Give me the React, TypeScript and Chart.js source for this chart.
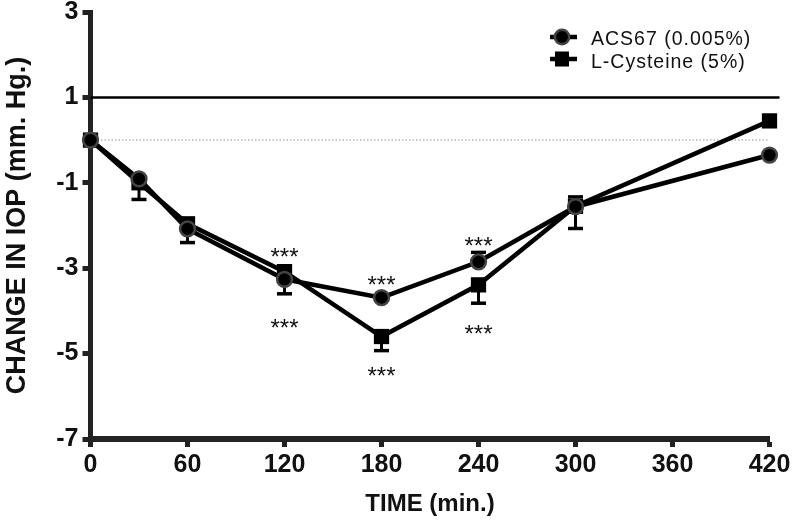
import React, { useEffect, useRef } from "react";
import { Chart, registerables } from "chart.js";

Chart.register(...registerables);

// ---- data ----
const times = [0, 30, 60, 120, 180, 240, 300, 420];
const acs67 = [0, -0.91, -2.08, -3.26, -3.69, -2.85, -1.56, -0.35];
const lCysteine = [0, -1.0, -1.96, -3.08, -4.6, -3.39, -1.55, 0.45];
// one-sided SEM bars: positive = drawn upward, negative = drawn downward, 0 = hidden
const acs67Err = [0, 0, -0.32, -0.34, 0, 0.22, 0.23, 0];
const lCysteineErr = [0, -0.39, 0, 0, -0.33, -0.43, -0.52, 0];

const xTicks = [0, 60, 120, 180, 240, 300, 360, 420];
const yTicks = [-7, -5, -3, -1, 1, 3];
const refLineValue = 1;
const baselineValue = 0;

// significance marks: time, value where "***" sits
const sigTimes = [120, 180, 240, 120, 180, 240];
const sigValues = [-2.64, -3.28, -2.38, -4.29, -5.43, -4.43];
const sigText = "***";

const seriesLabels = ["ACS67 (0.005%)", "L-Cysteine (5%)"];
const yTitle = "CHANGE IN IOP (mm. Hg.)";
const xTitleBold = "TIME";
const xTitleRest = " (min.)";

const AXIS = "#222";

export default function App() {
  const ref = useRef<HTMLCanvasElement>(null);

  useEffect(() => {
    document.body.style.margin = "0";
    const canvas = ref.current!;

    const overlay = {
      id: "overlay",
      beforeDatasetsDraw(chart: any) {
        const { ctx, chartArea, scales } = chart;
        const xs = scales.x;
        const ys = scales.y;
        ctx.save();
        // reference line at 1
        ctx.strokeStyle = "#000";
        ctx.lineWidth = 2.5;
        ctx.beginPath();
        const y1 = ys.getPixelForValue(refLineValue);
        ctx.moveTo(chartArea.left, y1);
        ctx.lineTo(chartArea.right + 10, y1);
        ctx.stroke();
        // dotted baseline at 0
        ctx.strokeStyle = "#b5b5b5";
        ctx.lineWidth = 1.5;
        ctx.setLineDash([1.5, 2]);
        const y0 = ys.getPixelForValue(baselineValue);
        ctx.beginPath();
        ctx.moveTo(chartArea.left, y0);
        ctx.lineTo(chartArea.right - 2, y0);
        ctx.stroke();
        ctx.setLineDash([]);
        // error bars
        const drawErr = (vals: number[], errs: number[]) => {
          vals.forEach((v, i) => {
            const e = errs[i];
            if (!e) return;
            const px = xs.getPixelForValue(times[i]);
            const pa = ys.getPixelForValue(v);
            const pb = ys.getPixelForValue(v + e);
            ctx.strokeStyle = "#000";
            ctx.lineWidth = 3;
            ctx.beginPath();
            ctx.moveTo(px, pa);
            ctx.lineTo(px, pb);
            ctx.stroke();
            ctx.lineWidth = 3.5;
            ctx.beginPath();
            ctx.moveTo(px - 7.5, pb);
            ctx.lineTo(px + 7.5, pb);
            ctx.stroke();
          });
        };
        drawErr(acs67, acs67Err);
        drawErr(lCysteine, lCysteineErr);
        ctx.restore();
      },
      afterDraw(chart: any) {
        const { ctx, chartArea, scales } = chart;
        const xs = scales.x;
        const ys = scales.y;
        ctx.save();
        // asterisks
        ctx.fillStyle = "#111";
        ctx.font = '24px "Liberation Sans", Arial, sans-serif';
        ctx.textAlign = "center";
        ctx.textBaseline = "alphabetic";
        const m = ctx.measureText(sigText);
        const half = (m.actualBoundingBoxAscent - m.actualBoundingBoxDescent) / 2;
        sigTimes.forEach((t, i) => {
          ctx.fillText(sigText, xs.getPixelForValue(t), ys.getPixelForValue(sigValues[i]) + half);
        });

        // y title
        ctx.save();
        ctx.translate(25, (chartArea.top + chartArea.bottom) / 2);
        ctx.rotate(-Math.PI / 2);
        ctx.font = 'bold 27px "Liberation Sans", Arial, sans-serif';
        ctx.fillStyle = "#111";
        ctx.textAlign = "center";
        ctx.fillText(yTitle, 0, 0);
        ctx.restore();

        // x title
        ctx.font = 'bold 24px "Liberation Sans", Arial, sans-serif';
        ctx.textAlign = "left";
        const w1 = ctx.measureText(xTitleBold).width;
        const w2 = ctx.measureText(xTitleRest).width;
        const cx = (chartArea.left + chartArea.right) / 2;
        const sx = cx - (w1 + w2) / 2;
        ctx.fillText(xTitleBold, sx, 511);
        ctx.fillText(xTitleRest, sx + w1, 511);

        // legend
        const items = [
          { label: seriesLabels[0], shape: "circle", y: 37, base: 45 },
          { label: seriesLabels[1], shape: "rect", y: 59, base: 68 },
        ];
        items.forEach((it) => {
          ctx.strokeStyle = "#000";
          ctx.lineWidth = 4.5;
          ctx.beginPath();
          ctx.moveTo(550, it.y);
          ctx.lineTo(577, it.y);
          ctx.stroke();
          ctx.fillStyle = "#000";
          if (it.shape === "circle") {
            ctx.beginPath();
            ctx.arc(562, it.y, 7.2, 0, Math.PI * 2);
            ctx.fill();
            ctx.strokeStyle = "#444";
            ctx.lineWidth = 2.5;
            ctx.stroke();
          } else {
            ctx.fillRect(562 - 7, it.y - 7.5, 14, 15);
          }
          ctx.fillStyle = "#111";
          ctx.font = '19.5px "Liberation Sans", Arial, sans-serif';
          (ctx as any).letterSpacing = "1px";
          ctx.textAlign = "left";
          ctx.fillText(it.label, 591, it.base);
          (ctx as any).letterSpacing = "0px";
        });
        ctx.restore();
      },
    };

    const tickFont = { family: '"Liberation Sans", Arial, sans-serif', size: 25, weight: "bold" as const, lineHeight: 1 };

    const chart = new Chart(canvas, {
      type: "line",
      data: {
        datasets: [
          {
            label: seriesLabels[0],
            data: times.map((t, i) => ({ x: t, y: acs67[i] })),
            borderColor: "#000",
            borderWidth: 4.5,
            pointStyle: "circle",
            pointRadius: 7.4,
            pointBackgroundColor: "#000",
            pointBorderColor: "#444",
            pointBorderWidth: 2.5,
            tension: 0,
            clip: false,
          },
          {
            label: seriesLabels[1],
            data: times.map((t, i) => ({ x: t, y: lCysteine[i] })),
            borderColor: "#000",
            borderWidth: 4.5,
            pointStyle: "rect",
            pointRadius: 10.8,
            pointBackgroundColor: "#000",
            pointBorderColor: "#000",
            pointBorderWidth: 0,
            tension: 0,
            clip: false,
          },
        ],
      },
      options: {
        animation: false,
        responsive: false,
        layout: { padding: { top: 12, right: 22.5, left: 0, bottom: 0 } },
        plugins: { legend: { display: false }, tooltip: { enabled: false } },
        scales: {
          x: {
            type: "linear",
            min: 0,
            max: 420,
            afterBuildTicks(s: any) {
              s.ticks = xTicks.map((v) => ({ value: v }));
            },
            ticks: { color: "#111", font: tickFont, padding: 6, maxRotation: 0, autoSkip: false },
            grid: { drawOnChartArea: false, tickLength: 8, tickWidth: 5, tickColor: AXIS },
            border: { color: AXIS, width: 6 },
            afterFit(s: any) {
              s.height = 81;
              s.paddingLeft = 0;
              s.paddingRight = 0;
            },
          },
          y: {
            min: -7,
            max: 3,
            afterBuildTicks(s: any) {
              s.ticks = yTicks.map((v) => ({ value: v }));
            },
            ticks: { color: "#111", font: tickFont, padding: 4, autoSkip: false },
            grid: { drawOnChartArea: false, tickLength: 8, tickWidth: 5, tickColor: AXIS },
            border: { color: AXIS, width: 5 },
            afterFit(s: any) {
              s.width = 90.5;
              s.paddingTop = 0;
              s.paddingBottom = 0;
            },
          },
        },
      },
      plugins: [overlay],
    } as any);

    return () => chart.destroy();
  }, []);

  return (
    <div style={{ width: 792, height: 520, background: "#fff" }}>
      <canvas ref={ref} width={792} height={520} style={{ display: "block" }} />
    </div>
  );
}
